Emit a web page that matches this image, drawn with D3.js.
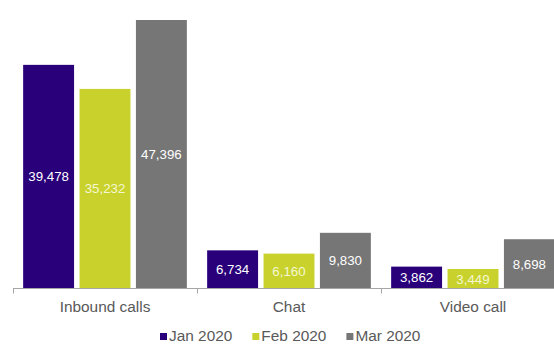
<!DOCTYPE html>
<html>
<head>
<meta charset="utf-8">
<script src="https://cdn.jsdelivr.net/npm/d3@7"></script>
<style>
  html, body { margin: 0; padding: 0; background: #fff; }
  svg { display: block; font-family: "Liberation Sans", Arial, sans-serif; }
</style>
</head>
<body>
<svg id="chart" width="554" height="345"></svg>
<script>
// Contact volumes by channel, per month
const categories = ["Inbound calls", "Chat", "Video call"];
const seriesNames = ["Jan 2020", "Feb 2020", "Mar 2020"];
const jan2020 = [39478, 6734, 3862];
const feb2020 = [35232, 6160, 3449];
const mar2020 = [47396, 9830, 8698];
const seriesColors = ["#29007a", "#c9d22c", "#767676"];
const labelColors = ["#ffffff", "#f4f7d2", "#ffffff"];

const seriesValues = [jan2020, feb2020, mar2020];
const rows = categories.map((c, i) => ({
  category: c,
  values: seriesNames.map((s, j) => ({ series: s, idx: j, value: seriesValues[j][i] }))
}));

const svg = d3.select("#chart");
const baseY = 288.5;

const x0 = d3.scaleBand().domain(categories).range([13, 565]).padding(0);
const x1 = d3.scaleBand().domain(seriesNames).range([0, x0.bandwidth()])
  .paddingInner(0.097).paddingOuter(0.18);
const y = d3.scaleLinear().domain([0, 50000]).range([baseY, 5.25]);

const fmt = d3.format(",");

// bars
const groups = svg.append("g").selectAll("g").data(rows).join("g")
  .attr("transform", d => `translate(${x0(d.category)},0)`);

groups.selectAll("rect").data(d => d.values).join("rect")
  .attr("x", d => x1(d.series))
  .attr("y", d => y(d.value))
  .attr("width", x1.bandwidth())
  .attr("height", d => baseY - y(d.value))
  .attr("fill", d => seriesColors[d.idx]);

// value labels, centred inside each bar
groups.selectAll("text").data(d => d.values).join("text")
  .attr("x", d => x1(d.series) + x1.bandwidth() / 2)
  .attr("y", d => (y(d.value) + baseY) / 2)
  .attr("dy", "0.36em")
  .attr("text-anchor", "middle")
  .attr("font-size", "13.3px")
  .attr("fill", d => labelColors[d.idx])
  .text(d => fmt(d.value));

// category axis
const axis = svg.append("g").attr("transform", `translate(0,${baseY})`);
axis.append("line")
  .attr("x1", x0.range()[0]).attr("x2", x0.range()[1])
  .attr("stroke", "#a6a6a6").attr("stroke-width", 1);
const boundaries = categories.map(c => x0(c)).concat([x0.range()[1]]);
axis.selectAll("line.tick").data(boundaries).join("line")
  .attr("class", "tick")
  .attr("x1", d => Math.round(d) + 0.5).attr("x2", d => Math.round(d) + 0.5)
  .attr("y1", 0).attr("y2", 5)
  .attr("stroke", "#a6a6a6");
axis.selectAll("text").data(categories).join("text")
  .attr("x", d => x0(d) + x0.bandwidth() / 2)
  .attr("y", 23.5)
  .attr("text-anchor", "middle")
  .attr("font-size", "15.4px")
  .attr("fill", "#595959")
  .text(d => d);

// legend
const legend = svg.append("g");
const items = legend.selectAll("g").data(seriesNames).join("g");
items.append("rect")
  .attr("y", 333).attr("width", 7).attr("height", 7)
  .attr("fill", (d, i) => seriesColors[i]);
items.append("text")
  .attr("x", 9).attr("y", 341)
  .attr("font-size", "15.4px")
  .attr("fill", "#595959")
  .text(d => d);
let cursor = 160;
items.each(function () {
  const g = d3.select(this);
  g.attr("transform", `translate(${cursor},0)`);
  cursor += 9 + g.select("text").node().getComputedTextLength() + 20;
});
</script>
</body>
</html>
